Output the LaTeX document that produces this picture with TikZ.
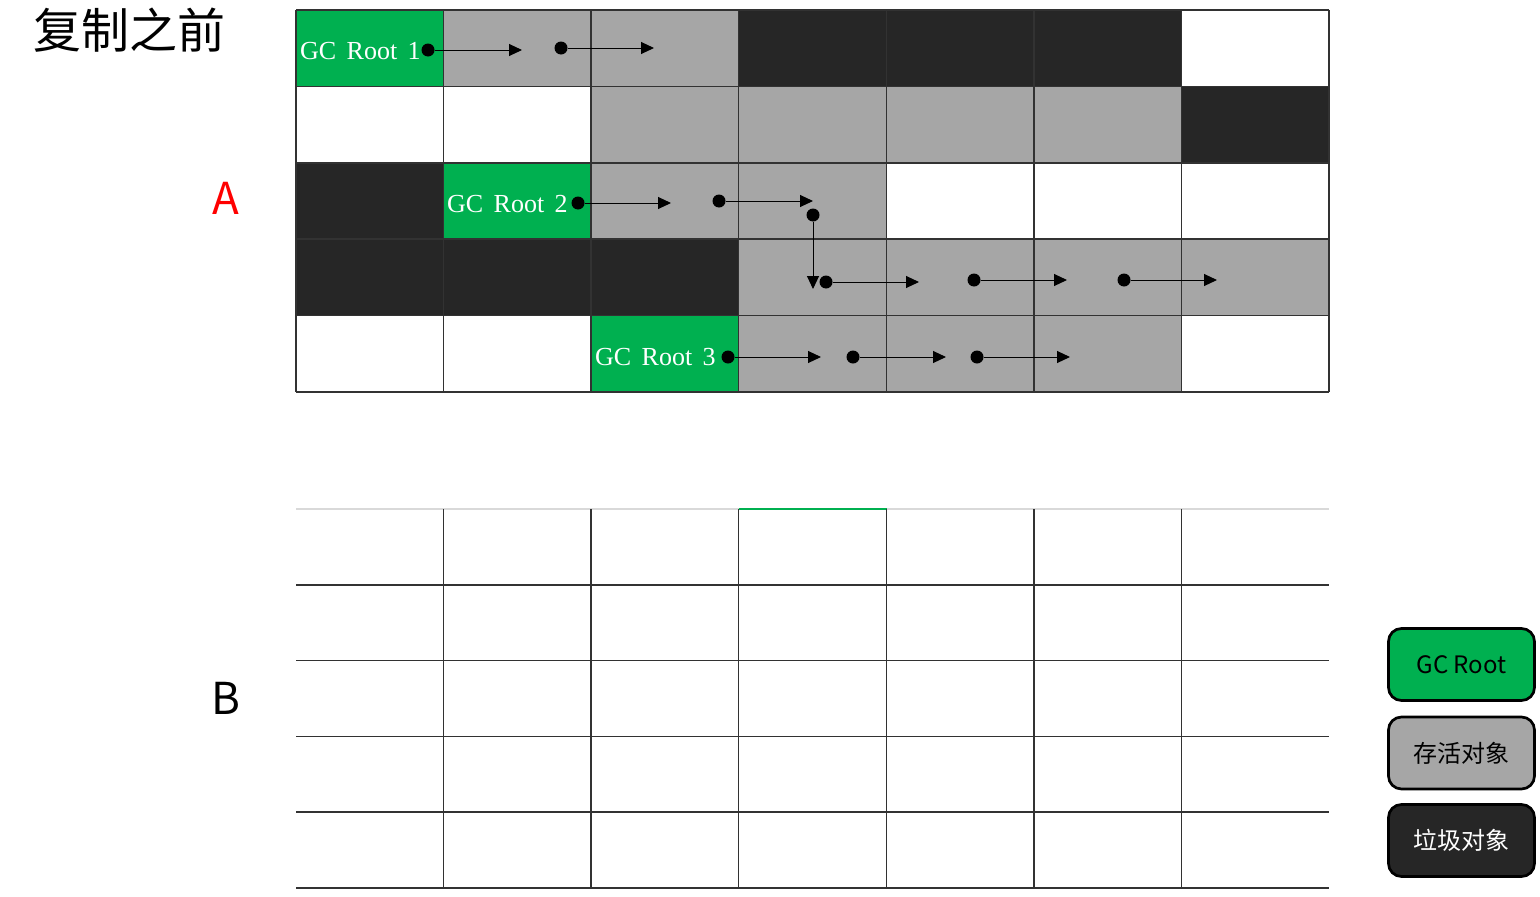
\documentclass[tikz,border=0pt]{standalone}
\usepackage{fontspec}
\setmainfont{Liberation Serif}
\newfontfamily\cjk{Noto Sans CJK SC}
\newfontfamily\rootfont[WordSpace=1.6]{Liberation Serif}
\usetikzlibrary{arrows.meta}

\begin{document}
\begin{tikzpicture}[x=1pt, y=-1pt,
    gridline/.style={draw=gridgray, line width=1.5pt},
    dot/.style={circle, fill=black, inner sep=0pt, minimum size=13pt},
    ptr/.style={line width=1pt, -{Triangle[length=13pt,width=12pt]}},
    rootlabel/.style={anchor=west, text=white, inner sep=0pt, font=\rootfont\fontsize{26}{30}\selectfont},
    legend/.style={draw=black, line width=2.7pt, rounded corners=13pt,
        minimum width=146pt, minimum height=72pt, font=\cjk\fontsize{24}{28}\selectfont}]
    % Define custom colors
    \definecolor{gcgreen}{RGB}{0,176,80}
    \definecolor{alive}{RGB}{166,166,166}
    \definecolor{junk}{RGB}{38,38,38}
    \definecolor{gridgray}{RGB}{50,50,50}
    \definecolor{lightline}{RGB}{217,217,217}

    \useasboundingbox (0,0) rectangle (1540,897);

    % Title and region labels
    \node[font=\cjk\fontsize{48}{52}\selectfont] (title) at (130,30) {复制之前};
    \node[text=red, font=\cjk\fontsize{44}{48}\selectfont] (lblA) at (226,198) {A};
    \node[font=\cjk\fontsize{44}{48}\selectfont] (lblB) at (226,698) {B};

    % Region A (cells)
    \foreach \cols [count=\r from 0] in {
        {gcgreen,alive,alive,junk,junk,junk,white},
        {white,white,alive,alive,alive,alive,junk},
        {junk,gcgreen,alive,alive,white,white,white},
        {junk,junk,junk,alive,alive,alive,alive},
        {white,white,gcgreen,alive,alive,alive,white}}
        \foreach \col [count=\c from 0] in \cols
            \fill[\col] (296+\c*147.57,10+\r*76.4) rectangle ++(147.57,76.4);
    \foreach \c in {0,...,7}
        \draw[gridline] (296+\c*147.57,10) -- (296+\c*147.57,392);
    \foreach \r in {0,...,5}
        \draw[gridline] (296,10+\r*76.4) -- (1329,10+\r*76.4);

    % GC roots
    \node[rootlabel] (root1) at (300,51) {GC Root 1};
    \node[rootlabel] (root2) at (447,204) {GC Root 2};
    \node[rootlabel] (root3) at (595,357) {GC Root 3};

    % References, row 1
    \node[dot] (a1) at (428,50) {};
    \coordinate (a1e) at (522,50);
    \node[dot] (a2) at (561,48) {};
    \coordinate (a2e) at (654,48);
    \draw[ptr] (a1) -- (a1e);
    \draw[ptr] (a2) -- (a2e);

    % References, rows 3 and 4
    \node[dot] (b1) at (578,203) {};
    \coordinate (b1e) at (671,203);
    \node[dot] (b2) at (719,201) {};
    \coordinate (b2e) at (813,201);
    \node[dot] (b3) at (813,215) {};
    \coordinate (b3e) at (813,289);
    \node[dot] (b4) at (826,282) {};
    \coordinate (b4e) at (919,282);
    \node[dot] (b5) at (974,280) {};
    \coordinate (b5e) at (1067,280);
    \node[dot] (b6) at (1124,280) {};
    \coordinate (b6e) at (1217,280);
    \foreach \n in {b1,b2,b3,b4,b5,b6}
        \draw[ptr] (\n) -- (\n e);

    % References, row 5
    \node[dot] (c1) at (728,357) {};
    \coordinate (c1e) at (821,357);
    \node[dot] (c2) at (853,357) {};
    \coordinate (c2e) at (946,357);
    \node[dot] (c3) at (977,357) {};
    \coordinate (c3e) at (1070,357);
    \foreach \n in {c1,c2,c3}
        \draw[ptr] (\n) -- (\n e);

    % Region B (empty)
    \draw[gridline, draw=lightline] (296,509) -- (1329,509);
    \draw[line width=1.5pt, draw=gcgreen] (739,509) -- (887,509);
    \foreach \r in {1,...,5}
        \draw[gridline] (296,509+\r*75.8) -- (1329,509+\r*75.8);
    \foreach \c in {1,...,6}
        \draw[gridline] (296+\c*147.57,509) -- (296+\c*147.57,888);

    % Legend
    \node[legend, fill=gcgreen] (keyroot) at (1461.5,664.5) {GC Root};
    \node[legend, fill=alive] (keyalive) at (1461.5,753) {存活对象};
    \node[legend, fill=junk, text=white] (keyjunk) at (1461.5,840.5) {垃圾对象};
\end{tikzpicture}
\end{document}
